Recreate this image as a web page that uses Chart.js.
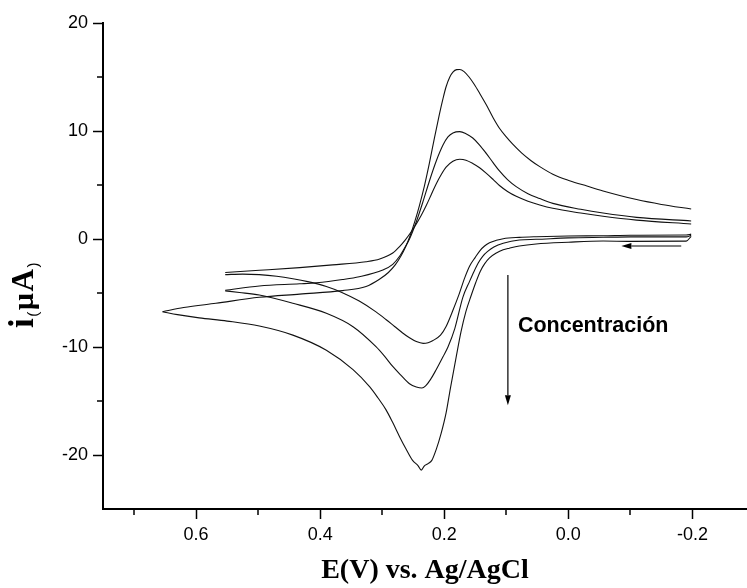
<!DOCTYPE html>
<html>
<head>
<meta charset="utf-8">
<script src="https://cdn.jsdelivr.net/npm/chart.js@4.4.1/dist/chart.umd.min.js"></script>
<style>
  body { margin: 0; background: #fff; }
  #grafico { display: block; }
</style>
</head>
<body>
<canvas id="grafico" width="747" height="588"></canvas>
<script>
// Voltametrías cíclicas a tres concentraciones (E en V, i en µA).
// Cada curva: barrido de ida desde -0.2 V hasta el potencial de inversión y barrido de regreso.

// concentración baja
const eIda1 = [-0.198, -0.19, -0.1, -0.056, 0.0, 0.052, 0.079, 0.105, 0.116, 0.127, 0.135, 0.142, 0.15, 0.159, 0.167, 0.176, 0.186, 0.197, 0.206, 0.218, 0.226, 0.234, 0.245, 0.256, 0.267, 0.28, 0.294, 0.31, 0.337, 0.365, 0.39, 0.42, 0.444, 0.47, 0.498, 0.525, 0.553];
const iIda1 = [0.45, 0.37, 0.35, 0.3, 0.28, 0.21, 0.15, 0.03, -0.12, -0.35, -0.65, -1.05, -1.7, -2.5, -3.6, -5.1, -6.6, -8.1, -8.9, -9.4, -9.6, -9.66, -9.5, -9.15, -8.7, -8.1, -7.45, -6.75, -5.75, -4.95, -4.4, -3.95, -3.68, -3.45, -3.3, -3.25, -3.3];
const eVuelta1 = [0.553, 0.498, 0.433, 0.38, 0.326, 0.304, 0.283, 0.272, 0.263, 0.254, 0.245, 0.237, 0.229, 0.221, 0.213, 0.205, 0.197, 0.186, 0.175, 0.165, 0.154, 0.143, 0.132, 0.121, 0.111, 0.098, 0.084, 0.065, 0.046, 0.025, -0.02, -0.056, -0.11, -0.198];
const iVuelta1 = [-3.1, -2.9, -2.65, -2.4, -2.1, -1.85, -1.3, -0.7, -0.1, 0.6, 1.4, 2.2, 3.1, 4.1, 5.1, 5.95, 6.65, 7.2, 7.38, 7.3, 7.0, 6.6, 6.08, 5.5, 4.95, 4.4, 3.95, 3.5, 3.15, 2.84, 2.4, 2.1, 1.75, 1.39];

// concentración media
const eIda2 = [-0.198, -0.19, -0.1, -0.056, 0.0, 0.052, 0.079, 0.105, 0.12, 0.13, 0.138, 0.145, 0.152, 0.159, 0.17, 0.183, 0.194, 0.202, 0.213, 0.222, 0.23, 0.236, 0.245, 0.256, 0.27, 0.283, 0.297, 0.31, 0.347, 0.39, 0.444, 0.498, 0.53, 0.553];
const iIda2 = [0.35, 0.2, 0.2, 0.16, 0.1, -0.03, -0.09, -0.4, -0.75, -1.15, -1.6, -2.2, -3.0, -3.9, -5.4, -8.3, -10.0, -10.9, -12.1, -13.0, -13.6, -13.8, -13.7, -13.4, -12.6, -11.8, -10.8, -9.97, -8.12, -6.88, -5.95, -5.19, -4.95, -4.8];
const eVuelta2 = [0.553, 0.498, 0.433, 0.406, 0.364, 0.337, 0.299, 0.283, 0.272, 0.263, 0.256, 0.245, 0.234, 0.224, 0.213, 0.202, 0.194, 0.186, 0.175, 0.165, 0.154, 0.143, 0.132, 0.121, 0.111, 0.098, 0.084, 0.065, 0.046, 0.025, -0.02, -0.056, -0.11, -0.198];
const iVuelta2 = [-4.75, -4.35, -4.15, -4.05, -3.75, -3.49, -2.87, -2.35, -1.6, -0.75, 0.0, 1.6, 3.5, 5.35, 7.2, 8.7, 9.45, 9.82, 9.94, 9.75, 9.35, 8.7, 7.9, 7.05, 6.3, 5.5, 4.85, 4.2, 3.75, 3.3, 2.75, 2.4, 2.0, 1.67];

// concentración alta
const eIda3 = [-0.198, -0.19, -0.1, -0.056, 0.0, 0.052, 0.079, 0.095, 0.105, 0.116, 0.127, 0.135, 0.142, 0.149, 0.157, 0.165, 0.173, 0.181, 0.19, 0.197, 0.205, 0.213, 0.22, 0.226, 0.232, 0.237, 0.242, 0.251, 0.262, 0.272, 0.283, 0.294, 0.307, 0.32, 0.347, 0.39, 0.444, 0.498, 0.55, 0.595, 0.63, 0.654];
const iIda3 = [0.25, -0.2, -0.22, -0.19, -0.3, -0.46, -0.65, -0.85, -1.0, -1.3, -1.75, -2.3, -3.0, -4.0, -5.3, -6.7, -8.6, -11.0, -13.8, -16.1, -18.0, -19.5, -20.5, -20.8, -21.0, -21.4, -21.0, -20.5, -19.4, -18.3, -17.0, -15.8, -14.7, -13.7, -12.1, -10.3, -8.9, -8.06, -7.6, -7.3, -7.0, -6.73];
const eVuelta3 = [0.654, 0.62, 0.568, 0.498, 0.433, 0.364, 0.326, 0.305, 0.29, 0.279, 0.27, 0.262, 0.255, 0.247, 0.24, 0.232, 0.224, 0.216, 0.208, 0.202, 0.197, 0.191, 0.186, 0.18, 0.175, 0.168, 0.16, 0.152, 0.143, 0.132, 0.121, 0.111, 0.1, 0.09, 0.075, 0.06, 0.046, 0.025, -0.002, -0.03, -0.056, -0.11, -0.15, -0.198];
const iVuelta3 = [-6.73, -6.35, -5.95, -5.4, -5.1, -4.78, -4.4, -3.75, -3.1, -2.4, -1.6, -0.7, 0.3, 1.7, 3.1, 4.9, 7.0, 9.3, 11.5, 13.0, 14.1, 15.0, 15.45, 15.68, 15.7, 15.5, 15.0, 14.35, 13.5, 12.4, 11.2, 10.25, 9.45, 8.8, 7.95, 7.25, 6.7, 6.0, 5.4, 4.9, 4.45, 3.65, 3.2, 2.78];

// marcas de los ejes
const marcasX = [0.6, 0.4, 0.2, 0.0, -0.2];
const marcasMenoresX = [0.7, 0.5, 0.3, 0.1, -0.1];
const marcasY = [20, 10, 0, -10, -20];
const marcasMenoresY = [15, 5, -5, -15];

// flechas y leyenda (en unidades de los ejes)
const flechaBarrido = { desde: [-0.182, -0.65], hasta: [-0.0855, -0.65] };
const flechaConc = { desde: [0.0974, -3.33], hasta: [0.0974, -15.4] };
const textoConc = { texto: 'Concentración', pos: [0.0813, -8.58] };

const negro = '#000';
const fuenteEjes = 'Liberation Sans, Arial, sans-serif';
const fuenteTitulos = 'Liberation Serif, Times New Roman, serif';

function puntos(e, i) {
    return e.map((x, k) => ({ x: x, y: i[k] }));
}

const ramas = [
    [eIda1, iIda1], [eVuelta1, iVuelta1],
    [eIda2, iIda2], [eVuelta2, iVuelta2],
    [eIda3, iIda3], [eVuelta3, iVuelta3]
];

// cada rama es monótona en E, así que se suaviza con interpolación monótona
const datasets = ramas.map(([e, i]) => ({
    data: puntos(e, i),
    showLine: true,
    borderColor: '#111',
    borderWidth: 1.1,
    pointRadius: 0,
    cubicInterpolationMode: 'monotone',
    fill: false
}));

function dibujarFlecha(ctx, x1, y1, x2, y2) {
    const ang = Math.atan2(y2 - y1, x2 - x1);
    const largo = 10, ancho = 3;
    ctx.beginPath();
    ctx.moveTo(x1, y1);
    ctx.lineTo(x2 - largo * Math.cos(ang), y2 - largo * Math.sin(ang));
    ctx.stroke();
    ctx.beginPath();
    ctx.moveTo(x2, y2);
    ctx.lineTo(x2 - largo * Math.cos(ang) + ancho * Math.sin(ang), y2 - largo * Math.sin(ang) - ancho * Math.cos(ang));
    ctx.lineTo(x2 - largo * Math.cos(ang) - ancho * Math.sin(ang), y2 - largo * Math.sin(ang) + ancho * Math.cos(ang));
    ctx.closePath();
    ctx.fill();
}

const extras = {
    id: 'extras',
    afterDraw(chart) {
        const ctx = chart.ctx;
        const sx = chart.scales.x, sy = chart.scales.y;
        ctx.save();
        ctx.strokeStyle = negro;
        ctx.fillStyle = negro;

        // marcas menores
        ctx.lineWidth = 1.5;
        marcasMenoresX.forEach(v => {
            const px = Math.round(sx.getPixelForValue(v));
            ctx.beginPath();
            ctx.moveTo(px, sy.bottom);
            ctx.lineTo(px, sy.bottom + 6);
            ctx.stroke();
        });
        marcasMenoresY.forEach(v => {
            const py = Math.round(sy.getPixelForValue(v));
            ctx.beginPath();
            ctx.moveTo(sx.left, py);
            ctx.lineTo(sx.left - 6, py);
            ctx.stroke();
        });

        // flechas
        ctx.lineWidth = 1.2;
        [flechaBarrido, flechaConc].forEach(f => {
            dibujarFlecha(ctx,
                sx.getPixelForValue(f.desde[0]), sy.getPixelForValue(f.desde[1]),
                sx.getPixelForValue(f.hasta[0]), sy.getPixelForValue(f.hasta[1]));
        });

        // texto de concentración
        ctx.font = 'bold 21.5px ' + fuenteEjes;
        ctx.textAlign = 'left';
        ctx.textBaseline = 'alphabetic';
        ctx.fillText(textoConc.texto, sx.getPixelForValue(textoConc.pos[0]), sy.getPixelForValue(textoConc.pos[1]));

        // título del eje y: i(µA), girado
        const trozos = [
            { t: 'i', f: 'bold 35px ' + fuenteTitulos, dy: 0 },
            { t: '(', f: '15px ' + fuenteEjes, dy: 5 },
            { t: 'µ', f: 'bold 30px ' + fuenteTitulos, dy: 0 },
            { t: 'A', f: 'bold 31px ' + fuenteTitulos, dy: 0 },
            { t: ')', f: '15px ' + fuenteEjes, dy: 5 }
        ];
        ctx.translate(33, 328);
        ctx.rotate(-Math.PI / 2);
        let cursor = 0;
        trozos.forEach(p => {
            ctx.font = p.f;
            ctx.fillText(p.t, cursor, p.dy);
            cursor += ctx.measureText(p.t).width + 1.5;
        });
        ctx.restore();
    }
};

new Chart(document.getElementById('grafico'), {
    type: 'scatter',
    data: { datasets: datasets },
    options: {
        responsive: false,
        animation: false,
        layout: { padding: { top: 23, right: 0, left: 0, bottom: 0 } },
        plugins: { legend: { display: false }, tooltip: { enabled: false } },
        scales: {
            x: {
                type: 'linear',
                reverse: true,
                min: -0.288,
                max: 0.75,
                afterBuildTicks: s => { s.ticks = marcasX.map(v => ({ value: v })); },
                afterFit: s => { s.height = 79; },
                grid: { drawOnChartArea: false, drawTicks: true, tickLength: 10, tickWidth: 1.5, tickColor: negro },
                border: { display: true, color: negro, width: 2 },
                ticks: {
                    color: negro,
                    padding: 5,
                    font: { family: fuenteEjes, size: 18 },
                    maxRotation: 0,
                    callback: v => v.toFixed(1)
                },
                title: {
                    display: true,
                    text: 'E(V) vs. Ag/AgCl',
                    color: negro,
                    font: { family: fuenteTitulos, size: 28, weight: 'bold' },
                    padding: { top: 0, bottom: 0 }
                }
            },
            y: {
                type: 'linear',
                min: -25,
                max: 20,
                afterBuildTicks: s => { s.ticks = marcasY.map(v => ({ value: v })); },
                afterFit: s => { s.width = 103; },
                grid: { drawOnChartArea: false, drawTicks: true, tickLength: 10, tickWidth: 1.5, tickColor: negro },
                border: { display: true, color: negro, width: 2 },
                ticks: {
                    color: negro,
                    padding: 5,
                    font: { family: fuenteEjes, size: 18 },
                    callback: v => String(v)
                }
            }
        }
    },
    plugins: [extras]
});
</script>
</body>
</html>
